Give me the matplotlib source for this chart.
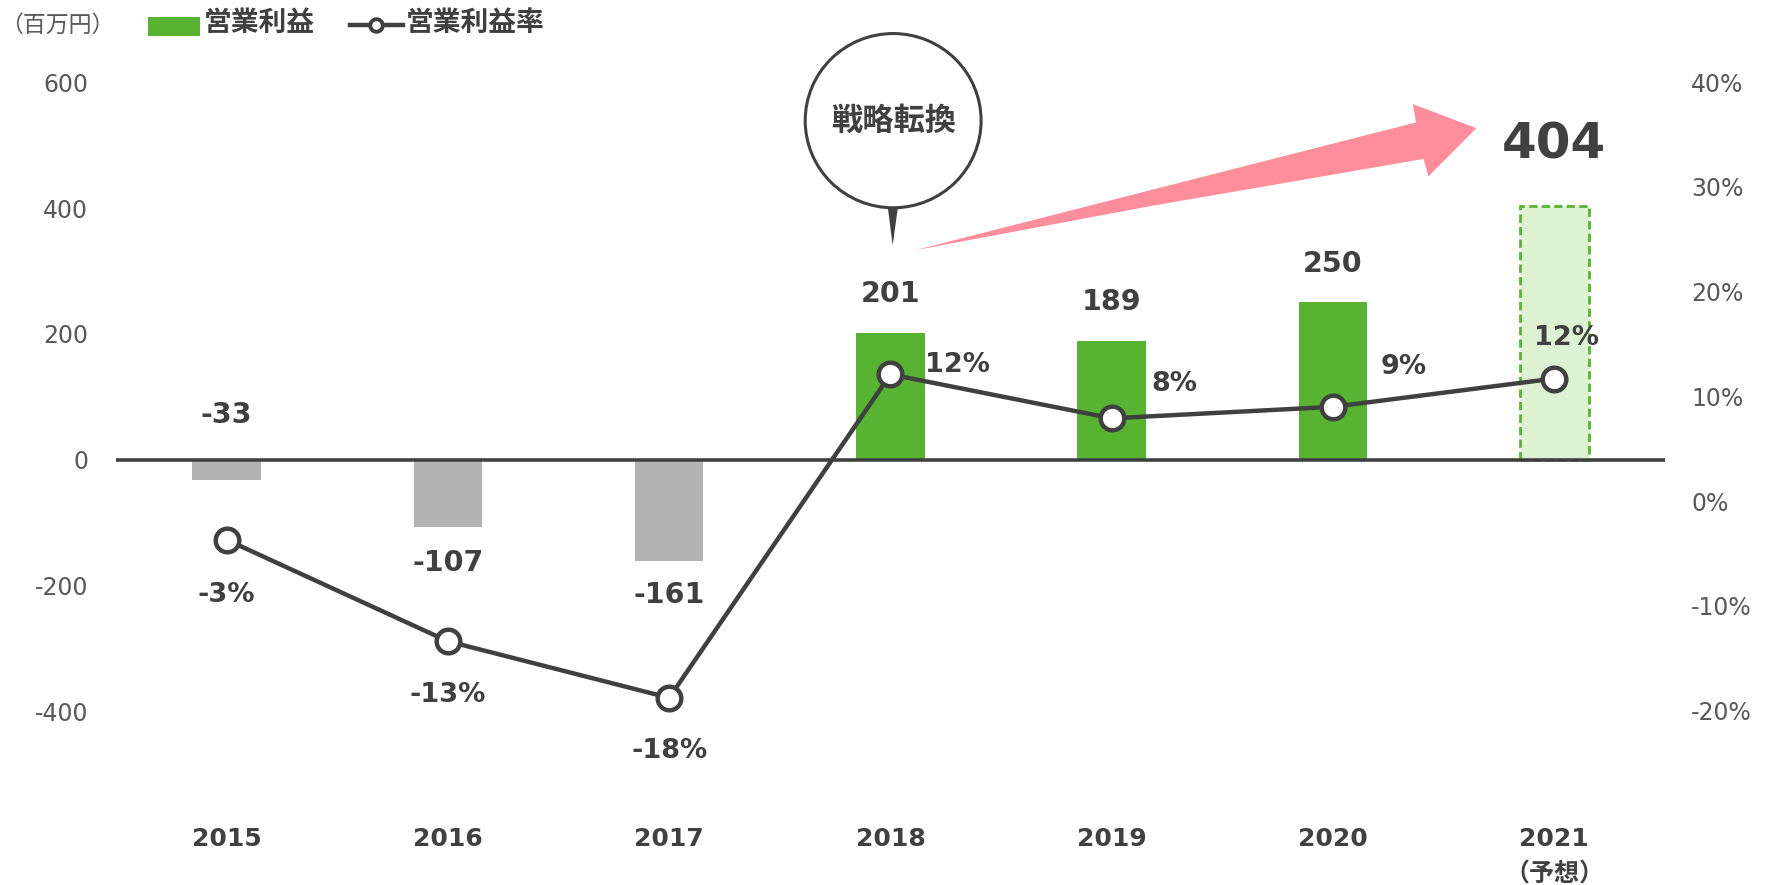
import numpy as np
import matplotlib
matplotlib.use("Agg")
import matplotlib.pyplot as plt
from matplotlib.patches import Ellipse, Polygon, Rectangle
from matplotlib.lines import Line2D
from matplotlib.ticker import FuncFormatter

plt.rcParams['font.family'] = ['DejaVu Sans', 'Noto Sans CJK JP']
plt.rcParams['axes.unicode_minus'] = False

# data
years = ['2015', '2016', '2017', '2018', '2019', '2020', '2021\n（予想）']
profit = [-33, -107, -161, 201, 189, 250, 404]          # 営業利益 (百万円)
rate = [-3.7, -13.4, -18.8, 12.1, 7.9, 9.0, 11.7]       # 営業利益率 (%)
rate_labels = ['-3%', '-13%', '-18%', '12%', '8%', '9%', '12%']

# styling
dark = '#404040'
grey_txt = '#595959'
green = '#57B331'
light_green = '#DDF2D3'
neg_grey = '#B3B3B3'
pink = '#FF8E9C'

fig = plt.figure(figsize=(17.68, 8.85), dpi=100)
ax = fig.add_axes([0.0656, 0.1112, 0.8761, 0.7958])
ax2 = ax.twinx()

x = np.arange(len(years))
colors = [neg_grey if v < 0 else green for v in profit]
ax.bar(x[:-1], profit[:-1], width=0.31, color=colors[:-1], zorder=2)
ax.bar(x[-1], profit[-1], width=0.31, color=light_green, edgecolor=green,
       linestyle=(0, (3, 1.5)), linewidth=2, zorder=2)

ax.axhline(0, color=dark, lw=2.6, zorder=3)
ax.set_xlim(-0.5, len(years) - 0.5)
ax.set_ylim(-520, 600)
ax.set_yticks([-400, -200, 0, 200, 400, 600])
ax.set_xticks(x)
ax.set_xticklabels(years, fontsize=18, fontweight='bold', color=dark,
                   linespacing=1.6)
ax.tick_params(axis='x', length=0, pad=29)
ax.tick_params(axis='y', length=0, pad=20, labelsize=17, labelcolor=grey_txt)

ax2.set_ylim(-0.2728, 0.40)
ax2.set_yticks([-0.2, -0.1, 0, 0.1, 0.2, 0.3, 0.4])
ax2.yaxis.set_major_formatter(FuncFormatter(lambda v, p: f"{v*100:.0f}%"))
ax2.tick_params(axis='y', length=0, pad=19, labelsize=17, labelcolor=grey_txt)

for a in (ax, ax2):
    for s in a.spines.values():
        s.set_visible(False)

rate_frac = [r / 100 for r in rate]
ax2.plot(x, rate_frac, color=dark, lw=3.2, marker='o', ms=17,
         markerfacecolor='white', markeredgecolor=dark, markeredgewidth=3.2,
         zorder=5)

# bar value labels (offsets in points)
bar_off = [47, -26, -24.5, 28.5, 28, 28, 44]
for i, v in enumerate(profit):
    fs = 36 if i == len(profit) - 1 else 20.5
    ax.annotate(str(v), (x[i], v), xytext=(0, bar_off[i]),
                textcoords='offset points', ha='center', va='center',
                fontsize=fs, fontweight='bold', color=dark, zorder=6)

# rate labels
rate_off = [(0, -39.5), (0, -39), (0, -38.5), (48.4, 6.5),
            (44.8, 25), (51, 28.5), (8.6, 29)]
for i, r in enumerate(rate_frac):
    ax2.annotate(rate_labels[i], (x[i], r), xytext=rate_off[i],
                 textcoords='offset points', ha='center', va='center',
                 fontsize=19.5, fontweight='bold', color=dark, zorder=6)


# helper: reference pixel -> left-axis data coords
def px(xp, yp):
    return ((xp - 226.6) / 221.4, (461 - yp) / 0.628)


# speech bubble "戦略転換"
tail = Polygon([px(887, 200), px(899.5, 200), px(893, 247)], closed=True,
               facecolor=dark, edgecolor='none', zorder=7, clip_on=False)
ax.add_patch(tail)
cx, cy = px(893.5, 122.5)
bubble = Ellipse((cx, cy), 2 * 88 / 221.4, 2 * 87 / 0.628, facecolor='white',
                 edgecolor=dark, lw=2.2, zorder=8, clip_on=False)
ax.add_patch(bubble)
ax.text(cx, cy, '戦略転換', ha='center', va='center', fontsize=22.5,
        fontweight='bold', color=dark, family='Noto Sans CJK JP', zorder=9)

# pink growth arrow
arrow = Polygon([px(915, 252), px(1416.6, 124.3), px(1413.6, 106),
                 px(1477, 130), px(1429, 178.3), px(1424.3, 160.7),
                 px(1150, 208)],
                closed=True, facecolor=pink, edgecolor='none', zorder=4,
                clip_on=False)
ax.add_patch(arrow)

# legend and unit
fig.text(0.0, 0.9718, '（百万円）', ha='left', va='center', fontsize=16.5,
         color=grey_txt, family='Noto Sans CJK JP')
fig.add_artist(Rectangle((148 / 1768, 1 - 36 / 885), 52 / 1768, 19 / 885,
                         transform=fig.transFigure, facecolor=green,
                         edgecolor='none'))
fig.text(204 / 1768, 1 - 22.5 / 885, '営業利益', ha='left', va='center',
         fontsize=20, fontweight='bold', color=dark, family='Noto Sans CJK JP')
ly = 1 - 24.8 / 885
fig.add_artist(Line2D([350 / 1768, 402.5 / 1768], [ly, ly],
                      transform=fig.transFigure, color=dark, lw=3.2))
fig.add_artist(Line2D([375.5 / 1768], [ly], transform=fig.transFigure,
                      marker='o', ms=9, markerfacecolor='white',
                      markeredgecolor=dark, markeredgewidth=2.8))
fig.text(406 / 1768, 1 - 22.5 / 885, '営業利益率', ha='left', va='center',
         fontsize=20, fontweight='bold', color=dark, family='Noto Sans CJK JP')

fig.savefig('out.png', dpi=100)
